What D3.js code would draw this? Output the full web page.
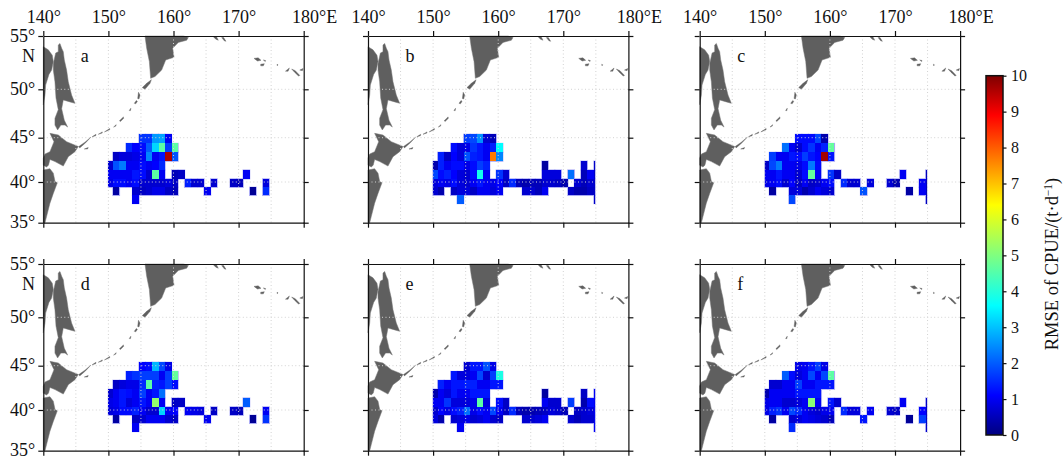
<!DOCTYPE html>
<html>
<head>
<meta charset="utf-8">
<script src="https://cdn.jsdelivr.net/npm/d3@7"></script>
<style>
  body { margin: 0; background: #fff; }
  text { font-family: "Liberation Serif", serif; fill: #111; }
</style>
</head>
<body>
<div id="chart"></div>
<script>
// axis ticks
const lonTicks = [140, 150, 160, 170, 180];
const latTicks = [55, 50, 45, 40, 35];
const gridLons = [145, 150, 155, 160, 165, 170, 175];
const gridLats = [50, 45, 40];
const cbarTicks = [0, 1, 2, 3, 4, 5, 6, 7, 8, 9, 10];

// jet colormap stops
const jetValues = [0, 1.1, 3.6, 6.4, 8.9, 10];
const jetColors = ["#00007f", "#0000ff", "#00ffff", "#ffff00", "#ff0000", "#7f0000"];

const panelNames = ["a", "b", "c", "d", "e", "f"];

// RMSE cells: [lat, first lon, values along lon]
const rmseA = [
  [45, 155, [1.6, 1.6, 2.6, 2.7, 1.0]],
  [44, 153, [1.5, 1.1, 1.2, 2.0, 3.2, 4.6, 1.7, 4.6]],
  [43, 151, [0.6, 0.8, 0.8, 0.9, 1.0, 2.4, 1.0, 1.3, 9.6, 1.9]],
  [42, 150, [0.7, 1.9, 2.3, 1.0, 1.0, 1.2, 1.0, 1.1, 1.5]],
  [41, 150, [1.0, 1.0, 1.0, 1.0, 1.3, 1.2, 0.7, 4.6, 1.0]],
  [41, 160, [0.5, 0.6]], [41, 171, [1.0]],
  [40, 150, [0.9, 1.2, 1.2, 1.0, 1.2, 0.7, 0.7, 0.7, 0.7, 0.8, 0.6]],
  [40, 162, [1.4, 0.7, 0.7]], [40, 166, [0.7]], [40, 169, [0.6, 0.5]], [40, 174, [0.8]],
  [39, 151, [0.3]], [39, 154, [0.7, 0.6, 0.7, 0.9, 0.9, 0.6, 0.5]],
  [39, 165, [1.0]], [39, 172, [0.2]], [39, 174, [1.5]],
  [38, 154, [1.0]]
];
const rmseB = [
  [45, 155, [1.7, 1.8, 2.5, 0.7, 0.5]],
  [44, 153, [1.2, 0.8, 0.9, 1.6, 1.3, 1.0, 1.4, 3.6]],
  [43, 151, [1.4, 0.6, 1.1, 0.8, 1.9, 1.4, 1.3, 1.0, 7.7, 2.4]],
  [42, 150, [0.4, 1.4, 1.0, 1.2, 1.2, 0.9, 1.2, 1.7, 1.4]],
  [42, 167, [0.3]], [42, 173, [0.7]], [42, 175, [0.6]],
  [41, 150, [1.8, 1.2, 1.4, 1.1, 0.8, 0.7, 1.2, 3.8, 1.0]],
  [41, 160, [1.6, 0.7]], [41, 167, [0.8, 0.8, 0.8]], [41, 171, [2.2]], [41, 173, [0.5, 1.0, 0.6]],
  [40, 150, [0.8, 1.0, 0.9, 1.2, 0.8, 0.7, 1.0, 1.3, 1.0, 0.9, 1.1, 0.6, 1.5, 0.5, 0.4, 0.5, 0.5, 0.7, 0.7, 0.6, 0.4]],
  [40, 172, [0.7, 0.5, 0.7, 0.6]],
  [39, 150, [0.7, 0.4]], [39, 153, [0.6, 0.8, 0.8, 0.6, 1.0, 1.0, 0.8, 1.0]],
  [39, 164, [0.7, 0.7, 0.5, 1.0]], [39, 171, [0.6, 0.4, 0.4, 0.6, 0.6]],
  [38, 154, [2.0]], [38, 175, [0.6]]
];
const rmseC = [
  [45, 155, [1.2, 1.2, 1.2, 1.8, 0.4]],
  [44, 153, [2.2, 1.0, 0.7, 1.2, 1.6, 1.0, 1.4, 4.7]],
  [43, 151, [1.7, 1.0, 1.0, 1.3, 1.2, 1.7, 1.3, 1.1, 9.7, 1.3]],
  [42, 150, [0.6, 1.8, 2.3, 1.0, 1.0, 0.9, 1.2, 2.3, 1.2]],
  [41, 150, [1.0, 1.0, 1.3, 1.0, 1.0, 0.7, 1.2, 4.7, 1.0]],
  [41, 160, [1.6, 0.6]], [41, 171, [1.0]], [41, 175, [0.5]],
  [40, 150, [0.9, 1.0, 1.2, 0.7, 1.1, 0.6, 1.0, 0.6, 0.7, 1.0, 1.2]],
  [40, 162, [1.5, 0.7, 0.7]], [40, 166, [0.8]], [40, 169, [0.7, 0.4]], [40, 174, [1.0, 0.5]],
  [39, 151, [0.3]], [39, 154, [0.8, 0.8, 0.4, 0.7, 1.0, 0.8, 0.7]],
  [39, 165, [1.9]], [39, 172, [0.3]], [39, 174, [1.0, 0.5]],
  [38, 154, [1.8]], [38, 175, [0.5]]
];
const rmseD = [
  [45, 155, [1.1, 1.2, 2.9, 1.8, 0.9]],
  [44, 153, [1.4, 1.6, 1.7, 1.7, 1.7, 1.0, 1.7, 4.7]],
  [43, 151, [0.6, 0.8, 0.9, 0.9, 1.5, 4.6, 1.4, 1.3, 1.7, 1.2]],
  [42, 150, [0.7, 1.0, 1.3, 1.2, 1.0, 1.7, 1.0, 1.3, 2.2]],
  [41, 150, [0.9, 1.0, 1.3, 0.8, 1.0, 1.3, 1.0, 5.2, 1.0]],
  [41, 160, [0.6, 0.6]], [41, 171, [2.0]],
  [40, 150, [0.8, 0.9, 1.2, 1.2, 1.4, 1.0, 0.7, 0.7, 3.2, 1.0, 1.1]],
  [40, 162, [1.0, 0.9, 0.8]], [40, 166, [0.6]], [40, 169, [0.6, 0.5]], [40, 174, [1.0]],
  [39, 151, [0.3]], [39, 154, [0.6, 0.7, 1.0, 1.0, 1.0, 0.7, 0.6]],
  [39, 165, [1.0]], [39, 172, [0.2]], [39, 174, [1.6]],
  [38, 154, [1.0]]
];
const rmseE = [
  [45, 155, [0.7, 1.3, 1.3, 1.9, 0.9]],
  [44, 153, [1.3, 0.8, 0.8, 1.0, 1.8, 0.7, 1.7, 3.9]],
  [43, 151, [1.4, 1.0, 1.3, 1.3, 1.4, 1.4, 1.0, 1.0, 1.3, 1.3]],
  [42, 150, [0.4, 1.0, 0.8, 1.3, 1.0, 1.0, 1.3, 1.3, 1.3]],
  [42, 167, [0.3]], [42, 173, [0.6]], [42, 175, [1.0]],
  [41, 150, [1.0, 1.0, 1.6, 0.8, 0.8, 0.8, 0.9, 4.6, 0.8]],
  [41, 160, [1.2, 0.6]], [41, 167, [1.0, 0.7, 0.7]], [41, 171, [1.7]], [41, 173, [0.4, 1.2, 1.0]],
  [40, 150, [0.7, 1.1, 0.9, 1.2, 1.4, 2.2, 0.9, 1.2, 1.0, 1.8, 1.0, 0.6, 1.5, 0.5, 0.4, 0.4, 0.5, 0.6, 0.8, 0.7, 0.5]],
  [40, 172, [0.6, 0.7, 0.8, 1.0]],
  [39, 150, [0.8, 0.4]], [39, 153, [0.7, 0.8, 0.9, 0.7, 0.8, 1.0, 0.7, 0.6]],
  [39, 164, [0.7, 0.7, 0.8, 1.0]], [39, 171, [0.7, 0.5, 0.7, 0.7, 1.0]],
  [38, 154, [1.0]], [38, 175, [1.0]]
];
const rmseF = [
  [45, 155, [0.9, 1.0, 1.3, 1.7, 0.9]],
  [44, 153, [2.0, 1.2, 0.8, 1.0, 1.8, 1.0, 1.8, 4.6]],
  [43, 151, [0.7, 0.7, 1.0, 1.0, 1.7, 1.0, 1.0, 1.3, 1.3, 1.3]],
  [42, 150, [0.4, 1.0, 1.0, 1.0, 1.0, 1.3, 1.3, 1.3, 1.3]],
  [41, 150, [0.9, 1.0, 1.0, 0.7, 0.7, 0.8, 1.0, 5.1, 1.0]],
  [41, 160, [1.3, 0.7]], [41, 171, [1.0]], [41, 175, [0.6]],
  [40, 150, [0.9, 1.4, 1.6, 1.0, 1.8, 1.5, 1.0, 0.8, 0.7, 0.9, 1.0]],
  [40, 162, [1.5, 0.8, 0.8]], [40, 166, [1.0]], [40, 169, [0.7, 0.6]], [40, 174, [1.1, 0.6]],
  [39, 151, [0.3]], [39, 154, [0.7, 0.8, 1.0, 0.9, 0.8, 0.7, 0.5]],
  [39, 165, [1.3]], [39, 172, [0.2]], [39, 174, [1.7, 0.6]],
  [38, 154, [1.5]], [38, 175, [0.6]]
];

// coast outlines, lon/lat
const mainland = [[140, 54], [140.77, 53.7], [141.38, 53.2], [141.54, 52.6], [141.28, 51.8], [140.87, 51.4], [140.36, 50.4], [140.26, 49.4], [140, 48.4]];
const sakhalin = [[142.56, 54.3], [142.82, 53.84], [143.07, 53.53], [143.23, 52.75], [143.58, 51.8], [143.84, 50.7], [144.35, 49.4], [144.86, 48.55], [144.1, 48.7], [143.07, 48.9], [142.82, 48], [143.23, 46.8], [143.74, 46.1], [143.33, 46.3], [142.71, 46.3], [142.2, 45.8], [141.79, 46.3], [141.79, 47], [142.3, 47.9], [141.95, 49.1], [141.79, 50.7], [141.54, 51.8], [141.54, 52.4], [141.9, 53.4], [142.3, 53.53], [142.3, 54.15]];
const hokkaido = [[141.02, 45.45], [142.3, 45.28], [143.58, 44.55], [145.38, 44], [144.86, 43.42], [143.84, 42.86], [143.07, 41.8], [141.8, 42.3], [141.02, 42.55], [140.8, 41.9], [140.5, 41.7], [140, 41.9], [140, 42.7], [140.26, 43.15], [141.02, 43.42], [141.64, 44.55]];
const honshu = [[140, 41.35], [141.02, 41.5], [141.54, 41], [141.8, 40.05], [142.15, 39.9], [141.54, 38.6], [141.02, 37.4], [140.5, 35.75], [140.26, 35], [140, 35]];
const kamchatka = [[155.62, 55], [155.88, 53.84], [156.29, 52.6], [156.49, 51.03], [157.16, 51.2], [158.18, 51.8], [158.8, 52.75], [160.08, 53], [159.87, 53.84], [160.74, 54.4], [162.02, 54.6], [162.28, 54.87], [161.5, 55]];
const kurils = [
  [[145.45, 44], [146.4, 44.5], [147.3, 45.05], [146.5, 44.42], [145.6, 43.85]],
  [[146.3, 43.72], [146.9, 43.9], [146.8, 43.72]],
  [[147.5, 45.1], [148.1, 45.35], [148.05, 45.2]],
  [[148.45, 45.35], [149.06, 45.6], [149.05, 45.48]],
  [[149.4, 45.6], [150.2, 45.95], [150.2, 45.82]],
  [[150.8, 46.1], [151.2, 46.35], [151.15, 46.2]],
  [[151.7, 46.75], [152.3, 47.15], [152.35, 47], [151.85, 46.68]],
  [[153.2, 47.8], [153.45, 48.05], [153.4, 47.8]],
  [[153.98, 48.55], [154.3, 48.85], [154.45, 48.75], [154.2, 48.5]],
  [[154.5, 49.05], [154.62, 49.7], [154.85, 49.4], [154.7, 49]],
  [[155.21, 50.16], [155.88, 50.56], [156.6, 50.9], [156.4, 50.56], [155.62, 50]]
];
const aleutians = [
  [[166.12, 54.94], [166.6, 54.94], [166.88, 54.6], [166.5, 54.7]],
  [[167.4, 54.85], [167.7, 54.85], [168.06, 54.5], [167.8, 54.55]],
  [[172.37, 52.9], [173, 52.95], [173.44, 52.72], [172.9, 52.65]],
  [[173.39, 52.35], [173.95, 52.4], [173.8, 52.2], [173.4, 52.2]],
  [[173.8, 52.75], [174.15, 52.7], [174.1, 52.6]],
  [[175.9, 52.35], [176.05, 52.3], [175.95, 52.2]],
  [[177.2, 51.7], [177.8, 52], [177.6, 51.7]],
  [[178.15, 51.9], [178.7, 51.75], [179.4, 51.3], [179.2, 51.25], [178.6, 51.6]],
  [[179.4, 51.8], [179.9, 51.95], [179.8, 51.75]]
];

const width = 1064, height = 456;
const panelW = 260.4, panelH = 186.7;
const panelLefts = [43.3, 368, 699.7];
const panelTops = [36, 264];

const svg = d3.select("#chart")
  .append("svg")
  .attr("width", width)
  .attr("height", height)
  .style("display", "block");

const color = d3.scaleLinear().domain(jetValues).range(jetColors).clamp(true);

const x = d3.scaleLinear().domain([140, 180]).range([0, panelW]);
// the map projection squeezes latitude, so the scale goes through the tick positions
const y = d3.scaleLinear().domain(latTicks).range([0, 53.3, 101.7, 146, panelH]);

const landLine = d3.line().x(d => x(d[0])).y(d => y(d[1]));
const bigLand = [mainland, sakhalin, hokkaido, honshu, kamchatka];
const islands = [...kurils, ...aleutians];

const degree = d => d + "°";

[rmseA, rmseB, rmseC, rmseD, rmseE, rmseF].forEach(function (rows, i) {
  const col = i % 3, row = Math.floor(i / 3);
  const g = svg.append("g")
    .attr("transform", `translate(${panelLefts[col]}, ${panelTops[row]})`);

  // flatten the runs of cells
  const cells = rows.flatMap(r => r[2].map((v, k) => ({ lat: r[0], lon: r[1] + k, value: v })));

  // cells sit slightly off the whole degrees in the source figure
  const west = d => Math.max(150, d.lon - 0.3);
  const east = d => Math.min(174.9, d.lon + 0.7);
  const placeCell = sel => sel
    .attr("x", d => x(west(d)))
    .attr("y", d => y(d.lat + 0.35))
    .attr("width", d => x(east(d)) - x(west(d)))
    .attr("height", d => y(d.lat - 0.65) - y(d.lat + 0.35));

  // pale rim under the cells, the source image is a bit soft at the edges
  g.selectAll("rect.rim")
    .data(cells)
    .join("rect")
    .attr("class", "rim")
    .call(placeCell)
    .attr("fill", "none")
    .attr("stroke", "#a8a8f5")
    .attr("stroke-width", 1.2);

  g.selectAll("rect.cell")
    .data(cells)
    .join("rect")
    .attr("class", "cell")
    .call(placeCell)
    .attr("fill", d => color(d.value))
    .attr("shape-rendering", "crispEdges");

  g.selectAll("path.land")
    .data(bigLand)
    .join("path")
    .attr("class", "land")
    .attr("d", d => landLine(d) + "Z")
    .attr("fill", "#5f5f5f")
    .attr("stroke", "#777")
    .attr("stroke-width", 0.5);

  g.selectAll("path.island")
    .data(islands)
    .join("path")
    .attr("class", "island")
    .attr("d", d => landLine(d) + "Z")
    .attr("fill", "#5f5f5f")
    .attr("stroke", "#5f5f5f")
    .attr("stroke-width", 0.4);

  // dotted graticule on top of everything
  g.selectAll("line.glon")
    .data(gridLons)
    .join("line")
    .attr("class", "glon")
    .attr("x1", d => x(d)).attr("x2", d => x(d))
    .attr("y1", 0).attr("y2", panelH);
  g.selectAll("line.glat")
    .data(gridLats)
    .join("line")
    .attr("class", "glat")
    .attr("x1", 0).attr("x2", panelW)
    .attr("y1", d => y(d)).attr("y2", d => y(d));
  g.selectAll("line.glon, line.glat")
    .attr("stroke", "#d2d2d2")
    .attr("stroke-width", 1)
    .attr("stroke-dasharray", "1,2.5");

  // frame: four axes with outward ticks
  const top = g.append("g")
    .call(d3.axisTop(x).tickValues(lonTicks).tickSize(5).tickSizeOuter(0).tickPadding(8)
      .tickFormat(row === 0 ? (d => d === 180 ? "180°E" : degree(d)) : ""));
  top.selectAll("text").filter(d => d === 180).attr("dx", 10.5);
  g.append("g")
    .attr("transform", `translate(0, ${panelH})`)
    .call(d3.axisBottom(x).tickValues(lonTicks).tickSize(5).tickSizeOuter(0).tickFormat(""));
  const left = g.append("g")
    .call(d3.axisLeft(y).tickValues(latTicks).tickSize(5).tickSizeOuter(0).tickPadding(3)
      .tickFormat(col === 0 ? degree : ""));
  left.selectAll("text").attr("dy", "0.28em");
  g.append("g")
    .attr("transform", `translate(${panelW}, 0)`)
    .call(d3.axisRight(y).tickValues(latTicks).tickSize(5).tickSizeOuter(0).tickFormat(""));
  g.selectAll(".domain, .tick line").attr("stroke", "#111").attr("stroke-width", 1.2);
  g.selectAll(".tick text").style("font-size", "18px").style("font-family", "Liberation Serif").attr("fill", "#111");

  if (col === 0) {
    g.append("text")
      .attr("x", -8.3).attr("y", 26)
      .attr("text-anchor", "end")
      .style("font-size", "18px")
      .text("N");
  }
  g.append("text")
    .attr("x", 37.5).attr("y", 25.5)
    .style("font-size", "18px")
    .text(panelNames[i]);
});

// colorbar
const cbarY = d3.scaleLinear().domain([0, 10]).range([435, 75.7]);
const cbarX = 986, cbarW = 17;

const grad = svg.append("defs").append("linearGradient")
  .attr("id", "jet")
  .attr("x1", 0).attr("x2", 0).attr("y1", 1).attr("y2", 0);
grad.selectAll("stop")
  .data(jetValues)
  .join("stop")
  .attr("offset", d => d / 10)
  .attr("stop-color", d => color(d));

svg.append("rect")
  .attr("x", cbarX)
  .attr("y", cbarY(10))
  .attr("width", cbarW)
  .attr("height", cbarY(0) - cbarY(10))
  .attr("fill", "url(#jet)")
  .attr("stroke", "#111")
  .attr("stroke-width", 1.5);

const cbarAxis = svg.append("g")
  .attr("transform", `translate(${cbarX + cbarW}, 0)`)
  .call(d3.axisRight(cbarY).tickValues(cbarTicks).tickSize(3.5).tickPadding(4.5));
cbarAxis.select(".domain").remove();
cbarAxis.selectAll(".tick line").attr("stroke", "#111").attr("stroke-width", 1.2);
cbarAxis.selectAll(".tick text").style("font-size", "16px").style("font-family", "Liberation Serif").attr("fill", "#111");

const title = svg.append("text")
  .attr("transform", "translate(1058, 264) rotate(-90)")
  .attr("text-anchor", "middle")
  .style("font-size", "18.5px");
title.append("tspan").text("RMSE of CPUE/(t·d");
title.append("tspan").attr("dy", -6).style("font-size", "11.5px").text("−1");
title.append("tspan").attr("dy", 6).text(")");
</script>
</body>
</html>
